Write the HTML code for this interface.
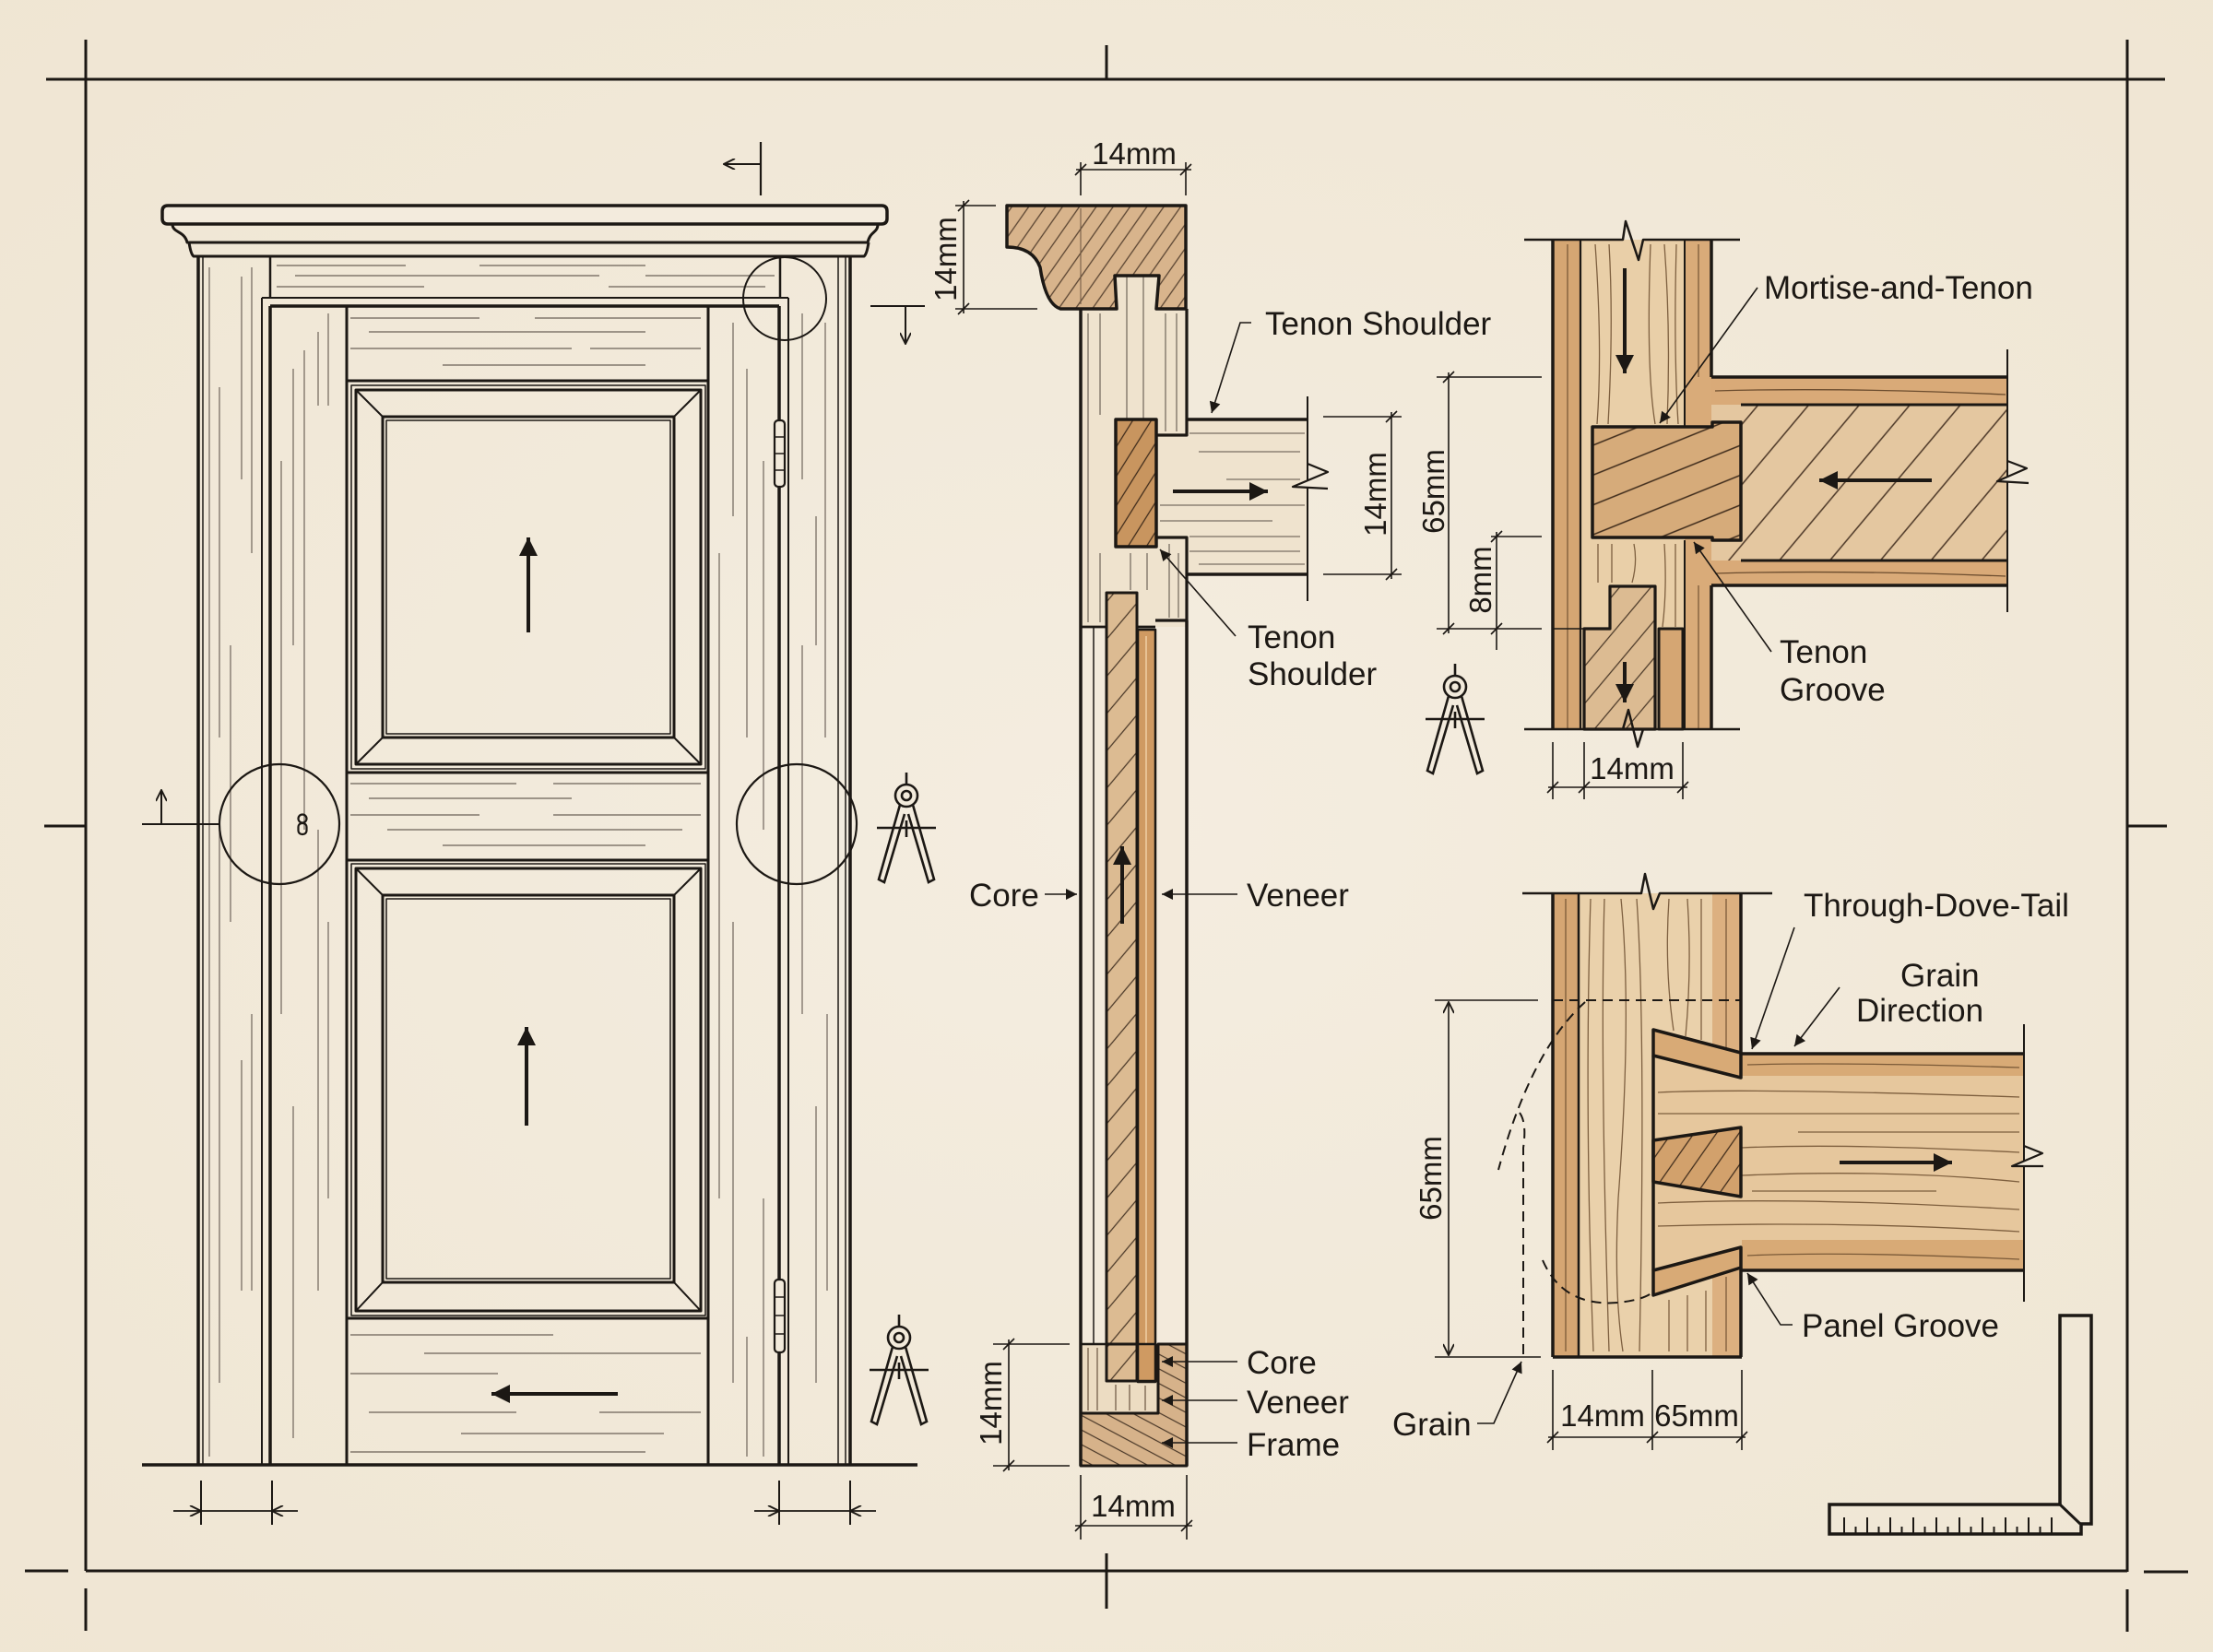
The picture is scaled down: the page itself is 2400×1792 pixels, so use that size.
<!DOCTYPE html>
<html><head><meta charset="utf-8"><style>
html,body{margin:0;padding:0;background:#f2eadb;}
svg{display:block;}
text{font-family:"Liberation Sans",Arial,sans-serif;fill:#1c1814;}
</style></head><body>
<svg width="2400" height="1792" viewBox="0 0 2400 1792" xmlns="http://www.w3.org/2000/svg">
<defs>
 <radialGradient id="bg" cx="50%" cy="50%" r="75%"><stop offset="0" stop-color="#f4ede0"/><stop offset="1" stop-color="#efe5d2"/></radialGradient>
 <marker id="af" viewBox="0 0 10 10" refX="10" refY="5" markerUnits="userSpaceOnUse" markerWidth="24" markerHeight="20" orient="auto"><path d="M0,0L10,5L0,10z" fill="#1c1814"/></marker>
 <marker id="as" viewBox="0 0 10 10" refX="10" refY="5" markerUnits="userSpaceOnUse" markerWidth="17" markerHeight="12" orient="auto"><path d="M0,0L10,5L0,10z" fill="#1c1814"/></marker>
 <marker id="ao" viewBox="0 0 10 10" refX="10" refY="5" markerUnits="userSpaceOnUse" markerWidth="14" markerHeight="12" orient="auto"><path d="M0,0L10,5L0,10" fill="none" stroke="#1c1814" stroke-width="1.6"/></marker>
 <pattern id="hc" width="15" height="15" patternUnits="userSpaceOnUse" patternTransform="rotate(-55)"><rect width="15" height="15" fill="#d8b48c"/><path d="M0,7.5H15" stroke="#5a4432" stroke-width="1.3"/></pattern>
 <pattern id="ht" width="17" height="17" patternUnits="userSpaceOnUse" patternTransform="rotate(-58)"><rect width="17" height="17" fill="#c8955f"/><path d="M0,8.5H17" stroke="#3d2a1a" stroke-width="1.3"/></pattern>
 <pattern id="hp" width="26" height="26" patternUnits="userSpaceOnUse" patternTransform="rotate(-50)"><rect width="26" height="26" fill="#dcbb92"/><path d="M0,13H26" stroke="#4a3828" stroke-width="1.2"/></pattern>
 <pattern id="hr" width="42" height="42" patternUnits="userSpaceOnUse" patternTransform="rotate(-50)"><rect width="42" height="42" fill="#e4c7a0"/><path d="M0,21H42" stroke="#4a3626" stroke-width="1.4"/></pattern>
 <pattern id="hb" width="30" height="30" patternUnits="userSpaceOnUse" patternTransform="rotate(-22)"><rect width="30" height="30" fill="#d6ab7a"/><path d="M0,15H30" stroke="#3d2a1a" stroke-width="1.4"/></pattern>
 <pattern id="hd" width="20" height="20" patternUnits="userSpaceOnUse" patternTransform="rotate(-55)"><rect width="20" height="20" fill="#d2a16c"/><path d="M0,10H20" stroke="#3d2a1a" stroke-width="1.3"/></pattern>
 <pattern id="hf" width="14" height="14" patternUnits="userSpaceOnUse" patternTransform="rotate(28)"><rect width="14" height="14" fill="#d6b28a"/><path d="M0,7H14" stroke="#4a3828" stroke-width="1.2"/></pattern>
 <g id="cmp" fill="none" stroke="#1c1814" stroke-width="2.6">
  <line x1="0" y1="0" x2="0" y2="13"/>
  <circle cx="0" cy="25" r="12" fill="#f2eadb"/>
  <circle cx="0" cy="25" r="5"/>
  <path d="M-7,35 L-30,116 L-24,119 L-2,45"/>
  <path d="M7,35 L30,116 L24,119 L2,45"/>
  <line x1="-32" y1="60" x2="32" y2="60"/>
  <line x1="0" y1="52" x2="0" y2="70"/>
 </g>
</defs>
<rect width="2400" height="1792" fill="url(#bg)"/>

<!-- sheet border -->
<g stroke="#1c1814" stroke-width="3" fill="none">
 <line x1="50" y1="86" x2="2348" y2="86"/>
 <line x1="93" y1="43" x2="93" y2="1704"/>
 <line x1="2307" y1="43" x2="2307" y2="1705"/>
 <line x1="93" y1="1704" x2="2307" y2="1704"/>
 <line x1="27" y1="1704" x2="74" y2="1704"/>
 <line x1="93" y1="1723" x2="93" y2="1769"/>
 <line x1="2325" y1="1705" x2="2373" y2="1705"/>
 <line x1="2307" y1="1724" x2="2307" y2="1770"/>
 <line x1="48" y1="896" x2="92" y2="896"/>
 <line x1="2308" y1="896" x2="2350" y2="896"/>
 <line x1="1200" y1="49" x2="1200" y2="86"/>
 <line x1="1200" y1="1685" x2="1200" y2="1745"/>
</g>

<!-- ============ DOOR ELEVATION ============ -->
<g fill="none" stroke="#5c5249" stroke-width="1.4" opacity="0.75">
 <path d="M227,290V1580 M238,420V800 M238,900V1500 M250,700V1000 M262,300V520 M262,1150V1400 M273,290V600 M273,1100V1400 M305,500V1100 M318,400V700 M318,1200V1560 M330,380V900 M345,900V1400 M345,360V440 M356,340V440 M356,1000V1300 M780,600V1300 M795,1000V1500 M795,350V560 M810,400V800 M810,1450V1580 M828,1300V1580 M828,500V900 M870,700V1100 M870,340V520 M885,1200V1500 M885,560V700 M895,350V800 M897,1100V1400"/>
 <path d="M300,288H440 M520,288H700 M320,299H650 M700,299H840 M300,311H460 M660,311H830 M380,345H520 M580,345H760 M400,360H700 M380,378H620 M640,378H760 M480,396H700 M380,850H560 M600,850H760 M400,866H620 M380,884H520 M600,884H760 M420,900H740 M480,917H700 M380,1448H600 M460,1468H760 M380,1490H540 M400,1532H560 M650,1532H760 M500,1555H720 M380,1575H700"/>
</g>
<g fill="none" stroke="#1c1814" stroke-linejoin="round">
 <!-- cornice -->
 <path d="M182,223 L956,223 Q962,223 962,229 L962,237 Q962,243 956,243 L182,243 Q176,243 176,237 L176,229 Q176,223 182,223Z" stroke-width="3.5" fill="#f3ebdd"/>
 <path d="M187,243 C187,253 200,250 203,263 L941,263 C944,250 952,253 952,243" stroke-width="3"/>
 <path d="M205,263 Q207,276 210,278 L937,278 Q940,276 942,263" stroke-width="3"/>
 <!-- casings -->
 <line x1="215" y1="278" x2="215" y2="1589" stroke-width="3.5"/>
 <line x1="220" y1="278" x2="220" y2="1589" stroke-width="1.5"/>
 <line x1="284" y1="323" x2="284" y2="1589" stroke-width="2"/>
 <line x1="293" y1="278" x2="293" y2="323" stroke-width="2.5"/>
 <line x1="293" y1="332" x2="293" y2="1589" stroke-width="3.5"/>
 <line x1="284" y1="323" x2="855" y2="323" stroke-width="2"/>
 <line x1="293" y1="332" x2="845" y2="332" stroke-width="3.5"/>
 <line x1="846" y1="278" x2="846" y2="323" stroke-width="2.5"/>
 <line x1="845" y1="332" x2="845" y2="1589" stroke-width="3.5"/>
 <line x1="855" y1="323" x2="855" y2="1589" stroke-width="2"/>
 <line x1="909" y1="278" x2="909" y2="1589" stroke-width="1.5"/>
 <line x1="917" y1="278" x2="917" y2="1589" stroke-width="1.5"/>
 <line x1="922" y1="278" x2="922" y2="1589" stroke-width="3.5"/>
 <!-- door leaf -->
 <line x1="376" y1="332" x2="376" y2="1589" stroke-width="3"/>
 <line x1="768" y1="332" x2="768" y2="1589" stroke-width="3"/>
 <line x1="376" y1="413" x2="768" y2="413" stroke-width="3"/>
 <rect x="381" y="418" width="384" height="416" stroke-width="1.5"/>
 <rect x="386" y="423" width="374" height="406" stroke-width="3"/>
 <rect x="415" y="452" width="316" height="348" stroke-width="3"/>
 <rect x="419" y="456" width="308" height="340" stroke-width="1.5"/>
 <path d="M386,423L415,452 M760,423L731,452 M386,829L415,800 M760,829L731,800" stroke-width="2"/>
 <line x1="376" y1="838" x2="768" y2="838" stroke-width="3"/>
 <line x1="376" y1="933" x2="768" y2="933" stroke-width="3"/>
 <rect x="381" y="937" width="384" height="490" stroke-width="1.5"/>
 <rect x="386" y="942" width="374" height="480" stroke-width="3"/>
 <rect x="415" y="971" width="316" height="420" stroke-width="3"/>
 <rect x="419" y="975" width="308" height="412" stroke-width="1.5"/>
 <path d="M386,942L415,971 M760,942L731,971 M386,1422L415,1391 M760,1422L731,1391" stroke-width="2"/>
 <line x1="376" y1="1430" x2="768" y2="1430" stroke-width="3"/>
 <!-- floor -->
 <line x1="154" y1="1589" x2="995" y2="1589" stroke-width="3.5"/>
 <!-- hinges -->
 <rect x="840" y="456" width="11" height="72" rx="4" stroke-width="2.2" fill="#f2eadb"/>
 <path d="M840,474H851 M840,492H851 M840,510H851" stroke-width="1.6"/>
 <rect x="840" y="1388" width="11" height="79" rx="4" stroke-width="2.2" fill="#f2eadb"/>
 <path d="M840,1407H851 M840,1427H851 M840,1447H851" stroke-width="1.6"/>
 <!-- circles -->
 <circle cx="303" cy="894" r="65" stroke-width="2.2"/>
 <circle cx="864" cy="894" r="65" stroke-width="2.2"/>
 <circle cx="851" cy="324" r="45" stroke-width="2"/>
 <!-- keyhole -->
 <circle cx="328" cy="888" r="4.5" stroke-width="2.2"/>
 <rect x="323.5" y="893" width="9" height="12" rx="4" stroke-width="2.2"/>
 <!-- markers -->
 <line x1="154" y1="894" x2="238" y2="894" stroke-width="2"/>
 <line x1="175" y1="894" x2="175" y2="857" stroke-width="2" marker-end="url(#ao)"/>
 <line x1="825" y1="154" x2="825" y2="212" stroke-width="2.2"/>
 <line x1="825" y1="178" x2="785" y2="178" stroke-width="2" marker-end="url(#ao)"/>
 <line x1="944" y1="332" x2="1003" y2="332" stroke-width="2"/>
 <line x1="982" y1="332" x2="982" y2="373" stroke-width="2" marker-end="url(#ao)"/>
 <!-- grain arrows -->
 <line x1="573" y1="686" x2="573" y2="583" stroke-width="4" marker-end="url(#af)"/>
 <line x1="571" y1="1221" x2="571" y2="1114" stroke-width="4" marker-end="url(#af)"/>
 <line x1="670" y1="1512" x2="533" y2="1512" stroke-width="4" marker-end="url(#af)"/>
 <!-- bottom dims -->
 <path d="M218,1606V1654 M295,1606V1654 M845,1606V1654 M922,1606V1654" stroke-width="2"/>
 <line x1="218" y1="1639" x2="295" y2="1639" stroke-width="1.8"/>
 <line x1="188" y1="1639" x2="218" y2="1639" stroke-width="1.8" marker-end="url(#ao)"/>
 <line x1="323" y1="1639" x2="295" y2="1639" stroke-width="1.8" marker-end="url(#ao)"/>
 <line x1="845" y1="1639" x2="922" y2="1639" stroke-width="1.8"/>
 <line x1="818" y1="1639" x2="845" y2="1639" stroke-width="1.8" marker-end="url(#ao)"/>
 <line x1="950" y1="1639" x2="922" y2="1639" stroke-width="1.8" marker-end="url(#ao)"/>
</g>
<use href="#cmp" transform="translate(983,838)"/>
<use href="#cmp" transform="translate(975,1426)"/>
<use href="#cmp" transform="translate(1578,720)"/>

<!-- ============ MIDDLE SECTION ============ -->
<g stroke="#1c1814" stroke-linejoin="round">
 <!-- upper stile -->
 <rect x="1172" y="335" width="115" height="345" fill="#efe3ce" stroke="none"/>
 <rect x="1211" y="299" width="45" height="40" fill="#efe3ce" stroke="none"/>
 <!-- rail -->
 <rect x="1254" y="455" width="164" height="168" fill="#efe3ce" stroke="none"/>
 <g fill="none" stroke="#5c5249" stroke-width="1.3" opacity="0.8">
  <path d="M1180,340V675 M1193,340V450 M1193,600V675 M1222,300V455 M1240,300V455 M1264,340V468 M1276,340V468 M1268,590V670 M1278,600V670 M1226,600V640 M1244,600V640"/>
  <path d="M1290,470H1415 M1300,490H1410 M1258,548H1415 M1258,565H1380 M1290,582H1410 M1290,598H1410 M1300,612H1415 M1330,520H1410"/>
 </g>
 <!-- cap -->
 <path d="M1092,223 L1286,223 L1286,335 L1254,335 L1257,299 L1209,299 L1211,335 L1150,335 Q1134,330 1128,290 Q1120,268 1092,268 Z" fill="url(#hc)" stroke-width="3.5"/>
 <line x1="1172" y1="226" x2="1172" y2="330" stroke="#6b5540" stroke-width="1"/>
 <!-- tenon -->
 <rect x="1210" y="455" width="44" height="138" fill="url(#ht)" stroke-width="3.5"/>
 <!-- lower stile -->
 <rect x="1172" y="680" width="115" height="778" fill="#f3eadb" stroke="none"/>
 <rect x="1200" y="643" width="33" height="855" fill="url(#hp)" stroke-width="3"/>
 <rect x="1234" y="683" width="19" height="816" fill="#cf9a62" stroke-width="2.5"/>
 <line x1="1243" y1="690" x2="1243" y2="1490" stroke="#e8c294" stroke-width="2"/>
 <!-- bottom block -->
 <rect x="1172" y="1458" width="84" height="75" fill="#ecdcc2" stroke="none"/>
 <rect x="1200" y="1458" width="33" height="40" fill="url(#hp)" stroke-width="3"/>
 <rect x="1234" y="1458" width="19" height="41" fill="#cf9a62" stroke-width="2.5"/>
 <path d="M1180,1462V1530 M1190,1462V1530 M1210,1502V1530 M1225,1502V1530 M1242,1503V1530" stroke="#6b5540" stroke-width="1.2" fill="none"/>
 <path d="M1256,1458 L1287,1458 L1287,1590 L1172,1590 L1172,1533 L1256,1533 Z" fill="url(#hf)" stroke-width="3"/>
 <path d="M1200,1498 L1254,1498 L1254,1458" fill="none" stroke-width="2.5"/>
 <!-- outlines -->
 <g fill="none">
  <line x1="1172" y1="335" x2="1172" y2="1590" stroke-width="3.5"/>
  <line x1="1186" y1="680" x2="1186" y2="1458" stroke-width="1.5"/>
  <path d="M1287,335 L1287,472 L1254,472 M1254,583 L1287,583 L1287,673 L1253,673" stroke-width="3.2"/>
  <line x1="1287" y1="673" x2="1287" y2="1590" stroke-width="3.5"/>
  <path d="M1172,680H1200 M1233,680H1253" stroke-width="2.8"/>
  <path d="M1172,1458H1200" stroke-width="2.5"/>
  <line x1="1287" y1="455" x2="1418" y2="455" stroke-width="3.5"/>
  <line x1="1287" y1="623" x2="1418" y2="623" stroke-width="3.5"/>
  <line x1="1418" y1="430" x2="1418" y2="652" stroke-width="2"/>
  <path d="M1418,503 L1440,512 L1402,528 L1440,530" stroke-width="2.2" fill="#f2eadb"/>
  <line x1="1272" y1="533" x2="1375" y2="533" stroke-width="4" marker-end="url(#af)"/>
  <line x1="1217" y1="1002" x2="1217" y2="918" stroke-width="4" marker-end="url(#af)"/>
 </g>
</g>
<!-- middle dims -->
<g stroke="#1c1814" fill="none" stroke-width="1.6">
 <path d="M1172,176V212 M1286,176V212 M1167,184H1292 M1166,190L1178,178 M1280,190L1292,178"/>
 <path d="M1036,223H1080 M1036,335H1125 M1045,218V340 M1039,229L1051,217 M1039,341L1051,329"/>
 <path d="M1435,452H1520 M1435,623H1520 M1509,447V628 M1503,458L1515,446 M1503,629L1515,617"/>
 <path d="M1558,409H1672 M1558,682H1672 M1571,404V687 M1565,415L1577,403 M1565,688L1577,676"/>
 <path d="M1617,582H1672 M1623,577V705 M1617,588L1629,576 M1617,688L1629,676"/>
 <path d="M1077,1458H1160 M1077,1590H1160 M1094,1453V1595 M1088,1464L1100,1452 M1088,1596L1100,1584"/>
 <path d="M1172,1600V1670 M1287,1600V1670 M1166,1655H1293 M1166,1661L1178,1649 M1281,1661L1293,1649"/>
 <!-- leaders -->
 <path d="M1357,350 L1345,350 L1314,448" marker-end="url(#as)"/>
 <path d="M1340,690 L1258,596" marker-end="url(#as)"/>
 <line x1="1133" y1="970" x2="1168" y2="970" marker-end="url(#as)"/>
 <line x1="1342" y1="970" x2="1260" y2="970" marker-end="url(#as)"/>
 <line x1="1342" y1="1477" x2="1260" y2="1477" marker-end="url(#as)"/>
 <line x1="1342" y1="1519" x2="1260" y2="1519" marker-end="url(#as)"/>
 <line x1="1342" y1="1565" x2="1260" y2="1565" marker-end="url(#as)"/>
</g>

<!-- ============ MORTISE & TENON ============ -->
<g stroke="#1c1814" stroke-linejoin="round">
 <rect x="1684" y="260" width="172" height="531" fill="#e9cfa8" stroke="none"/>
 <rect x="1684" y="260" width="30" height="531" fill="#d5a673" stroke="none"/>
 <rect x="1827" y="260" width="29" height="531" fill="#d9ab79" stroke="none"/>
 <g fill="none" stroke="#6b4c2e" stroke-width="1.3" opacity="0.85">
  <path d="M1730,265 Q1738,380 1732,460 M1745,265 Q1750,350 1744,460 M1790,265 Q1785,400 1795,460 M1805,265 Q1812,360 1808,460 M1818,265 Q1815,380 1820,460 M1700,265V791 M1842,265V409 M1842,635V791 M1733,590V632 M1748,590V632 M1772,590 Q1776,610 1770,632 M1805,590 Q1808,640 1803,680 M1817,590V680 M1700,270V780"/>
 </g>
 <!-- rail -->
 <rect x="1856" y="409" width="321" height="30" fill="#d9aa78" stroke="none"/>
 <rect x="1856" y="439" width="321" height="169" fill="url(#hr)" stroke="none"/>
 <rect x="1856" y="608" width="321" height="27" fill="#d9aa78" stroke="none"/>
 <path d="M1860,424 Q2000,420 2175,428 M1860,622 Q2000,618 2175,625" fill="none" stroke="#6b4c2e" stroke-width="1.3"/>
 <!-- tenon block -->
 <path d="M1727,463 L1857,463 L1857,458 L1888,458 L1888,586 L1857,586 L1857,583 L1727,583 Z" fill="url(#hb)" stroke-width="3.5"/>
 <!-- lower notch pieces -->
 <path d="M1746,636 L1795,636 L1795,791 L1718,791 L1718,682 L1746,682 Z" fill="url(#hp)" stroke-width="3.2"/>
 <rect x="1799" y="682" width="26" height="109" fill="#d5a673" stroke-width="3"/>
 <g fill="none">
  <line x1="1684" y1="682" x2="1718" y2="682" stroke-width="1.5"/>
  <line x1="1684" y1="260" x2="1684" y2="791" stroke-width="3.5"/>
  <line x1="1714" y1="260" x2="1714" y2="791" stroke-width="2.2"/>
  <line x1="1827" y1="260" x2="1827" y2="463" stroke-width="2"/>
  <line x1="1827" y1="586" x2="1827" y2="791" stroke-width="2"/>
  <path d="M1856,260V409 M1856,635V791" stroke-width="3.5"/>
  <path d="M1653,260 H1760 L1763,240 L1777,282 L1782,260 H1887" stroke-width="2.5"/>
  <path d="M1653,791 H1760 L1766,770 L1776,810 L1782,791 H1887" stroke-width="2.5"/>
  <path d="M1856,409H2177 M1856,635H2177" stroke-width="3.5"/>
  <path d="M1888,439H2177 M1888,608H2177" stroke-width="3"/>
  <line x1="2177" y1="379" x2="2177" y2="664" stroke-width="2"/>
  <path d="M2177,500 L2198,508 L2166,522 L2200,524" stroke-width="2.2" fill="#f2eadb"/>
  <line x1="1762" y1="291" x2="1762" y2="405" stroke-width="4" marker-end="url(#af)"/>
  <line x1="1762" y1="718" x2="1762" y2="762" stroke-width="4" marker-end="url(#af)"/>
  <line x1="2095" y1="521" x2="1973" y2="521" stroke-width="4" marker-end="url(#af)"/>
 </g>
 <g fill="none" stroke-width="1.6">
  <path d="M1684,805V867 M1718,805V867 M1825,805V867 M1679,854H1830 M1678,860L1690,848 M1712,860L1724,848 M1819,860L1831,848"/>
  <path d="M1906,312 L1800,459" marker-end="url(#as)"/>
  <path d="M1921,707 L1837,588" marker-end="url(#as)"/>
 </g>
</g>

<!-- ============ DOVETAIL ============ -->
<g stroke="#1c1814" stroke-linejoin="round">
 <rect x="1684" y="969" width="205" height="503" fill="#ead1ab" stroke="none"/>
 <rect x="1684" y="969" width="28" height="503" fill="#d5a673" stroke="none"/>
 <rect x="1857" y="969" width="32" height="503" fill="#dcb080" stroke="none"/>
 <g fill="none" stroke="#6b4c2e" stroke-width="1.3" opacity="0.85">
  <path d="M1698,975V1466 M1725,975 Q1718,1200 1728,1466 M1740,975 Q1735,1150 1745,1466 M1758,975 Q1770,1100 1755,1300 Q1750,1400 1760,1466 M1775,975 Q1785,1120 1778,1466 M1810,975 Q1805,1050 1815,1118 M1830,975 Q1835,1050 1828,1124 M1845,975V1128 M1872,975V1140 M1810,1410V1466 M1830,1405V1466 M1850,1400V1466 M1872,1385V1466"/>
 </g>
 <!-- rail + tail -->
 <rect x="1889" y="1143" width="306" height="235" fill="#e6c79d" stroke="none"/>
 <rect x="1889" y="1143" width="306" height="24" fill="#d8aa76" stroke="none"/>
 <rect x="1889" y="1345" width="306" height="33" fill="#d8aa76" stroke="none"/>
 <path d="M1793,1145 L1889,1169 L1889,1353 L1793,1378 Z" fill="#e6c79d" stroke="none"/>
 <g fill="none" stroke="#6b4c2e" stroke-width="1.3" opacity="0.85">
  <path d="M1895,1155 Q2000,1152 2190,1158 M1798,1185 Q1900,1180 2190,1190 M1798,1208 H2190 M1889,1245 Q2000,1240 2190,1250 M1889,1275 Q2050,1268 2190,1282 M1798,1305 Q1950,1298 2190,1312 M1798,1330 Q2000,1324 2190,1336 M1895,1362 Q2000,1357 2190,1366 M1950,1228 H2190 M1900,1292 H2100"/>
 </g>
 <path d="M1793,1117 L1888,1142 L1888,1169 L1793,1145 Z" fill="#d8aa76" stroke-width="3.5"/>
 <path d="M1793,1237 L1888,1223 L1888,1298 L1793,1282 Z" fill="url(#hd)" stroke-width="3.5"/>
 <path d="M1793,1378 L1888,1353 L1888,1375 L1793,1405 Z" fill="#d8aa76" stroke-width="3.5"/>
 <g fill="none">
  <line x1="1793" y1="1145" x2="1793" y2="1378" stroke-width="3.5"/>
  <line x1="1684" y1="969" x2="1684" y2="1472" stroke-width="3.5"/>
  <line x1="1712" y1="969" x2="1712" y2="1472" stroke-width="2.5"/>
  <path d="M1888,969V1143 M1888,1375V1472" stroke-width="3.5"/>
  <line x1="1684" y1="1472" x2="1889" y2="1472" stroke-width="3.5"/>
  <path d="M1651,969 H1780 L1784,948 L1793,986 L1800,969 H1922" stroke-width="2.5"/>
  <path d="M1888,1143H2195 M1888,1378H2195" stroke-width="3.5"/>
  <line x1="2195" y1="1111" x2="2195" y2="1412" stroke-width="2"/>
  <path d="M2195,1243 L2215,1251 L2182,1265 L2216,1265" stroke-width="2.2" fill="#f2eadb"/>
  <line x1="1995" y1="1261" x2="2117" y2="1261" stroke-width="4" marker-end="url(#af)"/>
  <!-- dashed -->
  <g stroke-width="2" stroke-dasharray="11,7">
   <line x1="1684" y1="1085" x2="1889" y2="1085"/>
   <path d="M1719,1087 Q1660,1140 1625,1269"/>
   <path d="M1648,1207 Q1656,1218 1652,1245 L1652,1472"/>
   <path d="M1673,1367 Q1695,1418 1755,1413 Q1782,1410 1792,1402"/>
  </g>
 </g>
 <g fill="none" stroke-width="1.6">
  <line x1="1556" y1="1085" x2="1668" y2="1085"/>
  <line x1="1556" y1="1472" x2="1671" y2="1472"/>
  <line x1="1571" y1="1272" x2="1571" y2="1087" marker-end="url(#ao)"/>
  <line x1="1571" y1="1272" x2="1571" y2="1470" marker-end="url(#ao)"/>
  <path d="M1684,1486V1573 M1792,1486V1573 M1889,1486V1573 M1679,1559H1893 M1678,1565L1690,1553 M1786,1565L1798,1553 M1883,1565L1895,1553"/>
  <path d="M1946,1006 L1900,1138" marker-end="url(#as)"/>
  <path d="M1995,1071 L1946,1135" marker-end="url(#as)"/>
  <path d="M1944,1437 L1931,1437 L1895,1381" marker-end="url(#as)"/>
  <path d="M1602,1544 L1620,1544 L1650,1477" marker-end="url(#as)"/>
 </g>
</g>

<!-- square tool -->
<g stroke="#1c1814" fill="none" stroke-linejoin="miter">
 <path d="M2234,1427 L2268,1427 L2268,1653 L2257,1653 L2257,1664 L1984,1664 L1984,1632 L2234,1632 Z" stroke-width="3.5"/>
 <line x1="2234" y1="1632" x2="2256" y2="1653" stroke-width="3"/>
 <path d="M2000,1664V1646 M2012.5,1664V1656 M2025,1664V1646 M2037.5,1664V1656 M2050,1664V1646 M2062.5,1664V1656 M2075,1664V1646 M2087.5,1664V1656 M2100,1664V1646 M2112.5,1664V1656 M2125,1664V1646 M2137.5,1664V1656 M2150,1664V1646 M2162.5,1664V1656 M2175,1664V1646 M2187.5,1664V1656 M2200,1664V1646 M2212.5,1664V1656 M2225,1664V1646" stroke-width="2"/>
</g>

<!-- ============ TEXT ============ -->
<g font-size="35">
 <text x="1372" y="363">Tenon Shoulder</text>
 <text x="1353" y="703">Tenon</text>
 <text x="1353" y="743">Shoulder</text>
 <text x="1051" y="983">Core</text>
 <text x="1352" y="983">Veneer</text>
 <text x="1352" y="1490">Core</text>
 <text x="1352" y="1533">Veneer</text>
 <text x="1352" y="1579">Frame</text>
 <text x="1913" y="324">Mortise-and-Tenon</text>
 <text x="1930" y="719">Tenon</text>
 <text x="1930" y="760">Groove</text>
 <text x="1956" y="994">Through-Dove-Tail</text>
 <text x="2061" y="1070">Grain</text>
 <text x="2013" y="1108">Direction</text>
 <text x="1954" y="1450">Panel Groove</text>
 <text x="1510" y="1557">Grain</text>
</g>
<g font-size="33" text-anchor="middle">
 <text x="1230" y="178">14mm</text>
 <text transform="translate(1037,281) rotate(-90)">14mm</text>
 <text transform="translate(1503,536) rotate(-90)">14mm</text>
 <text transform="translate(1566,533) rotate(-90)">65mm</text>
 <text transform="translate(1617,629) rotate(-90)">8mm</text>
 <text x="1770" y="845">14mm</text>
 <text transform="translate(1086,1522) rotate(-90)">14mm</text>
 <text x="1229" y="1645">14mm</text>
 <text transform="translate(1563,1278) rotate(-90)">65mm</text>
 <text x="1738" y="1547">14mm</text>
 <text x="1840" y="1547">65mm</text>
</g>
</svg>
</body></html>
